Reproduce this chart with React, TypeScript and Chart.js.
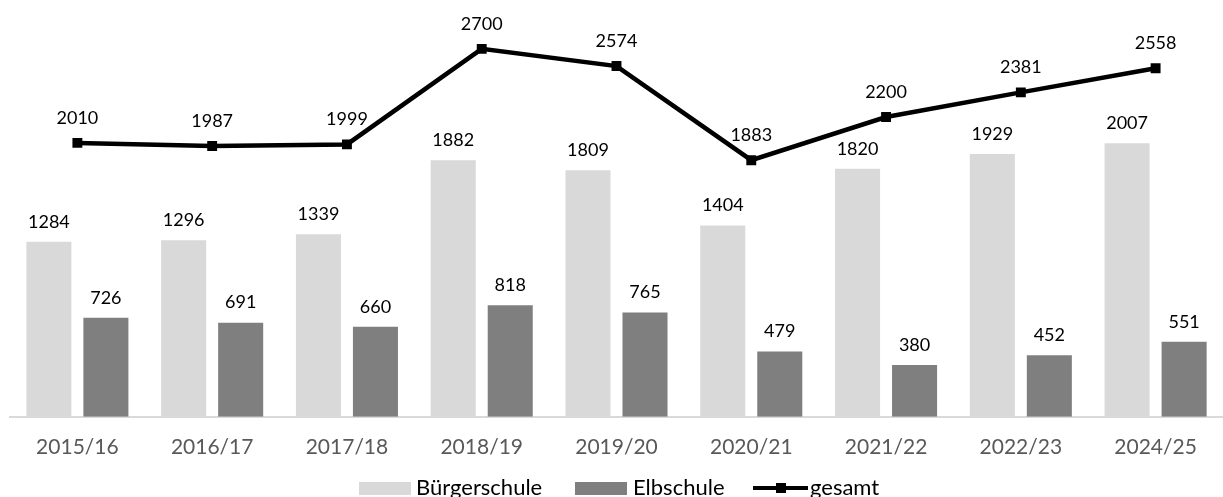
import React, { useEffect, useRef } from "react";
import { Chart, registerables } from "chart.js";

Chart.register(...registerables);

const categories = ["2015/16", "2016/17", "2017/18", "2018/19", "2019/20", "2020/21", "2021/22", "2022/23", "2024/25"];
const buergerschule = [1284, 1296, 1339, 1882, 1809, 1404, 1820, 1929, 2007];
const elbschule = [726, 691, 660, 818, 765, 479, 380, 452, 551];
const gesamt = [2010, 1987, 1999, 2700, 2574, 1883, 2200, 2381, 2558];

const FONT = 'Lato, "Open Sans", sans-serif';
const LIGHT = "#d9d9d9";
const DARK = "#7f7f7f";

const labelPlugin = {
  id: "valueLabels",
  afterDatasetsDraw(chart: any) {
    const ctx = chart.ctx;
    ctx.save();
    ctx.fillStyle = "#000";
    ctx.textAlign = "center";
    ctx.textBaseline = "middle";
    ctx.font = `18px ${FONT}`;
    chart.data.datasets.forEach((ds: any, i: number) => {
      const meta = chart.getDatasetMeta(i);
      meta.data.forEach((el: any, j: number) => {
        const v = ds.data[j];
        const off = ds.type === "line" ? 25 : 20;
        ctx.fillText(String(v), el.x, el.y - off);
      });
    });
    ctx.restore();
  },
};

const legendPlugin = {
  id: "customLegend",
  afterDraw(chart: any) {
    const ctx = chart.ctx;
    const cy = 488;
    ctx.save();
    ctx.font = `22px ${FONT}`;
    ctx.textBaseline = "middle";
    ctx.textAlign = "left";
    ctx.fillStyle = LIGHT;
    ctx.fillRect(359, 482, 52, 13);
    ctx.fillStyle = "#000";
    ctx.fillText(chart.data.datasets[0].label, 416, cy);
    ctx.fillStyle = DARK;
    ctx.fillRect(575, 482, 52, 13);
    ctx.fillStyle = "#000";
    ctx.fillText(chart.data.datasets[1].label, 633, cy);
    ctx.strokeStyle = "#000";
    ctx.lineWidth = 4;
    ctx.beginPath();
    ctx.moveTo(753, cy);
    ctx.lineTo(808, cy);
    ctx.stroke();
    ctx.fillRect(776, cy - 5, 10, 10);
    ctx.fillText(chart.data.datasets[2].label, 810, cy);
    ctx.restore();
  },
};

export default function App() {
  const ref = useRef<HTMLCanvasElement>(null);
  useEffect(() => {
    document.body.style.margin = "0";
    const chart = new Chart(ref.current!, {
      type: "bar",
      data: {
        labels: categories,
        datasets: [
          {
            type: "bar",
            label: "Bürgerschule",
            data: buergerschule,
            backgroundColor: LIGHT,
            order: 2,
            categoryPercentage: 0.846,
            barPercentage: 0.79,
          } as any,
          {
            type: "bar",
            label: "Elbschule",
            data: elbschule,
            backgroundColor: DARK,
            order: 2,
            categoryPercentage: 0.846,
            barPercentage: 0.79,
          } as any,
          {
            type: "line",
            label: "gesamt",
            data: gesamt,
            borderColor: "#000",
            backgroundColor: "#000",
            borderWidth: 4.5,
            tension: 0,
            pointStyle: "rect",
            pointRadius: 7,
            pointBorderWidth: 0,
            pointBackgroundColor: "#000",
            order: 0,
          } as any,
        ],
      },
      options: {
        animation: false,
        responsive: true,
        maintainAspectRatio: false,
        layout: { autoPadding: false, padding: { top: 8, left: 10, right: -3, bottom: 19 } },
        plugins: { legend: { display: false }, tooltip: { enabled: false } },
        scales: {
          x: {
            grid: { display: false, drawTicks: false },
            border: { display: true, color: LIGHT, width: 2 },
            ticks: { padding: 18, color: "#595959", font: { family: FONT, size: 21 } },
          },
          y: { display: false, min: 0, max: 3000 },
        },
      },
      plugins: [labelPlugin, legendPlugin],
    });
    return () => chart.destroy();
  }, []);
  return (
    <div style={{ width: 1223, height: 497, position: "relative" }}>
      <canvas ref={ref} />
    </div>
  );
}
